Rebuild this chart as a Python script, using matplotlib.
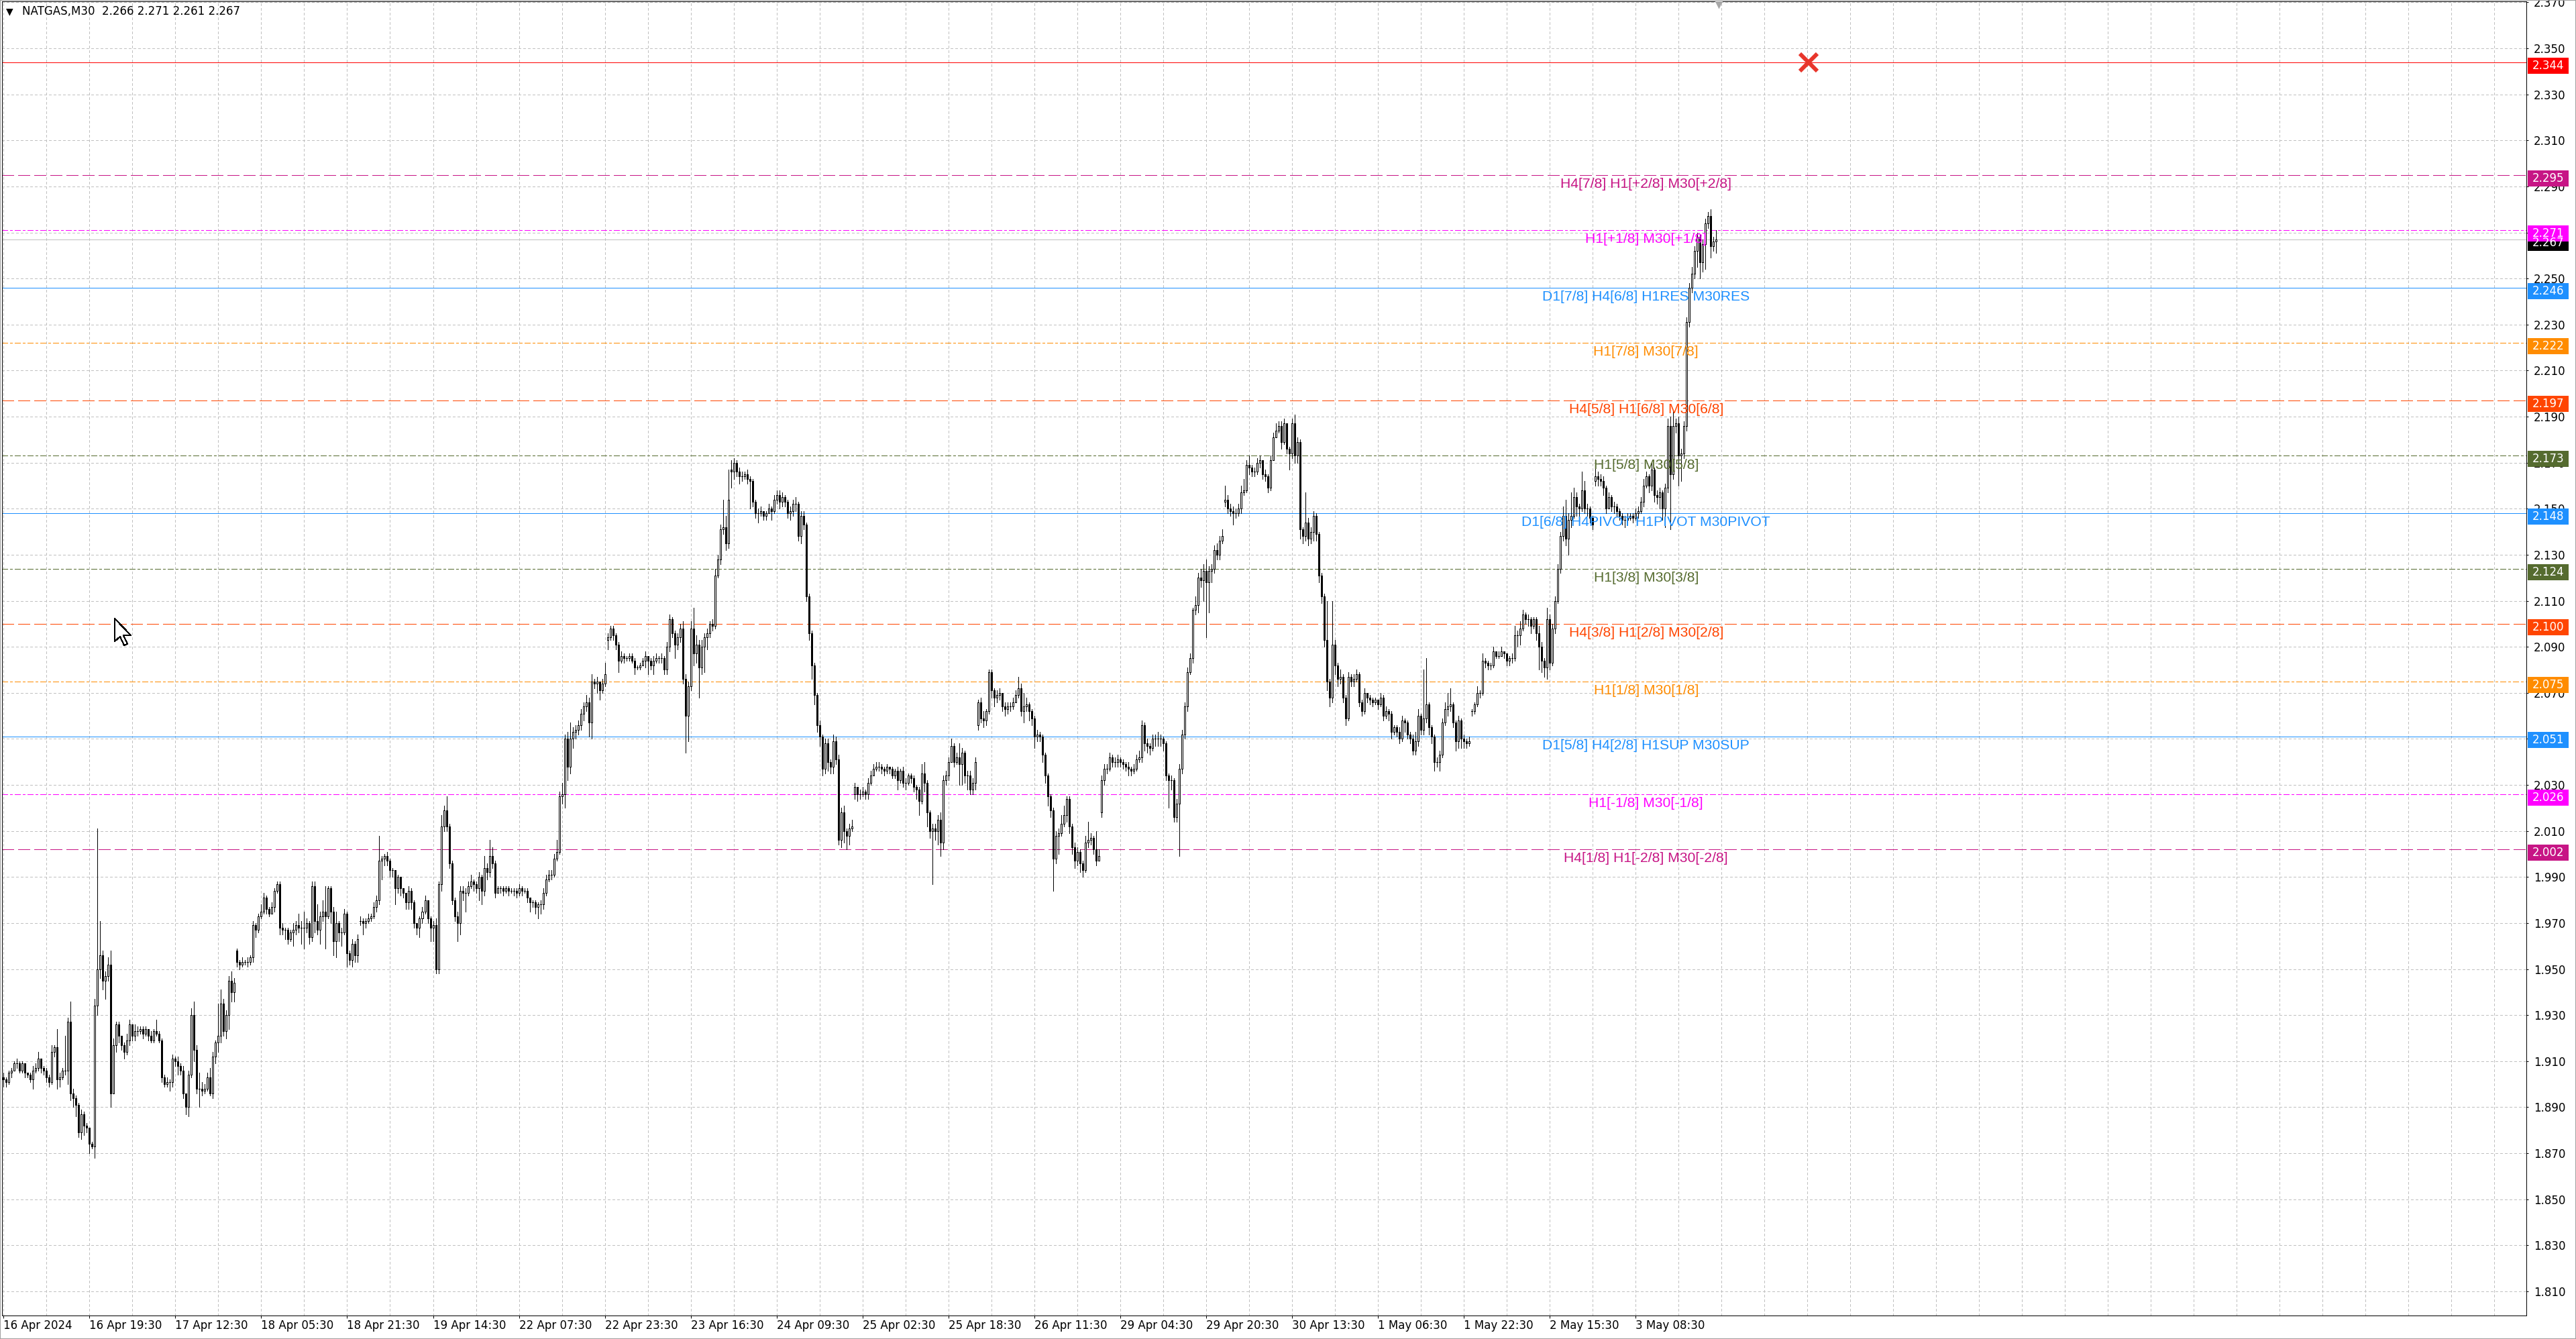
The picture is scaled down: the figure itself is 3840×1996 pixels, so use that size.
import numpy as np
import matplotlib.pyplot as plt
from matplotlib.patches import Rectangle, Polygon

W, H, DPI = 3840, 1996, 100
PX = 72 / DPI  # one pixel in points

plt.rcParams['lines.scale_dashes'] = False
plt.rcParams['lines.antialiased'] = False
plt.rcParams['patch.antialiased'] = False
plt.rcParams['font.family'] = ['DejaVu Sans']

# NATGAS M30 candles (one value per bar)
close = [
    1.902, 1.901, 1.905, 1.906, 1.909, 1.909, 1.906, 1.909, 1.905, 1.904, 1.902, 1.906, 1.907, 1.911, 1.907, 1.906, 1.903, 1.901, 1.914, 1.916,
    1.902, 1.903, 1.906, 1.906, 1.927, 1.896, 1.894, 1.891, 1.879, 1.887, 1.882, 1.881, 1.874, 1.873, 1.934, 1.950, 1.956, 1.945, 1.947, 1.952,
    1.896, 1.917, 1.926, 1.921, 1.917, 1.914, 1.919, 1.926, 1.921, 1.923, 1.923, 1.924, 1.922, 1.924, 1.921, 1.919, 1.923, 1.922, 1.919, 1.903,
    1.900, 1.901, 1.901, 1.911, 1.910, 1.908, 1.906, 1.896, 1.890, 1.904, 1.930, 1.915, 1.898, 1.898, 1.897, 1.898, 1.903, 1.896, 1.912, 1.918,
    1.921, 1.935, 1.923, 1.930, 1.945, 1.940, 1.944, 1.953, 1.952, 1.953, 1.953, 1.953, 1.955, 1.969, 1.967, 1.973, 1.975, 1.981, 1.976, 1.974,
    1.977, 1.984, 1.987, 1.968, 1.967, 1.967, 1.963, 1.966, 1.967, 1.969, 1.968, 1.968, 1.968, 1.970, 1.964, 1.986, 1.971, 1.967, 1.973, 1.975,
    1.973, 1.985, 1.975, 1.962, 1.970, 1.966, 1.966, 1.974, 1.957, 1.954, 1.961, 1.956, 1.963, 1.971, 1.970, 1.971, 1.972, 1.973, 1.977, 1.980,
    1.997, 1.998, 1.999, 1.997, 1.993, 1.993, 1.985, 1.990, 1.985, 1.983, 1.979, 1.984, 1.979, 1.970, 1.968, 1.972, 1.975, 1.980, 1.972, 1.968,
    1.969, 1.950, 1.987, 2.012, 2.019, 2.012, 1.996, 1.980, 1.973, 1.970, 1.984, 1.983, 1.983, 1.986, 1.988, 1.987, 1.985, 1.990, 1.984, 1.994,
    1.992, 1.999, 1.996, 1.983, 1.985, 1.985, 1.984, 1.985, 1.984, 1.984, 1.984, 1.983, 1.985, 1.984, 1.984, 1.981, 1.979, 1.979, 1.977, 1.978,
    1.978, 1.983, 1.989, 1.991, 1.991, 1.998, 2.001, 2.025, 2.026, 2.050, 2.038, 2.050, 2.053, 2.054, 2.056, 2.061, 2.064, 2.066, 2.057, 2.075,
    2.074, 2.075, 2.071, 2.074, 2.078, 2.094, 2.098, 2.095, 2.091, 2.084, 2.086, 2.085, 2.085, 2.086, 2.084, 2.081, 2.081, 2.082, 2.084, 2.086,
    2.084, 2.082, 2.084, 2.085, 2.085, 2.085, 2.080, 2.090, 2.102, 2.096, 2.091, 2.094, 2.098, 2.076, 2.060, 2.073, 2.098, 2.087, 2.091, 2.081,
    2.090, 2.094, 2.096, 2.100, 2.099, 2.121, 2.128, 2.141, 2.142, 2.135, 2.154, 2.166, 2.170, 2.166, 2.164, 2.164, 2.165, 2.163, 2.162, 2.153,
    2.148, 2.148, 2.149, 2.147, 2.148, 2.150, 2.149, 2.154, 2.156, 2.153, 2.155, 2.153, 2.148, 2.149, 2.152, 2.152, 2.138, 2.147, 2.143, 2.112,
    2.096, 2.082, 2.069, 2.056, 2.051, 2.037, 2.048, 2.040, 2.038, 2.049, 2.041, 2.006, 2.018, 2.010, 2.008, 2.011, 2.012, 2.029, 2.026, 2.026,
    2.027, 2.026, 2.031, 2.034, 2.037, 2.038, 2.038, 2.037, 2.036, 2.038, 2.037, 2.034, 2.036, 2.032, 2.036, 2.031, 2.031, 2.034, 2.033, 2.029,
    2.028, 2.023, 2.035, 2.031, 2.018, 2.010, 2.011, 2.010, 2.015, 2.005, 2.032, 2.034, 2.040, 2.047, 2.040, 2.042, 2.039, 2.044, 2.034, 2.034,
    2.028, 2.031, 2.040, 2.066, 2.059, 2.058, 2.062, 2.079, 2.071, 2.068, 2.069, 2.070, 2.064, 2.063, 2.064, 2.064, 2.066, 2.069, 2.072, 2.062,
    2.064, 2.065, 2.062, 2.059, 2.051, 2.052, 2.051, 2.043, 2.034, 2.025, 2.019, 1.998, 2.008, 2.009, 2.013, 2.017, 2.024, 2.012, 2.003, 1.997,
    2.001, 1.996, 1.993, 2.005, 2.006, 2.007, 2.002, 1.997, 1.999, 2.032, 2.037, 2.037, 2.042, 2.040, 2.040, 2.041, 2.040, 2.039, 2.038, 2.037,
    2.036, 2.037, 2.041, 2.042, 2.056, 2.048, 2.047, 2.046, 2.050, 2.050, 2.050, 2.050, 2.048, 2.034, 2.032, 2.032, 2.016, 2.022, 2.037, 2.052,
    2.064, 2.079, 2.085, 2.106, 2.108, 2.120, 2.119, 2.123, 2.118, 2.123, 2.124, 2.132, 2.130, 2.136, 2.138, 2.154, 2.150, 2.149, 2.148, 2.148,
    2.150, 2.157, 2.158, 2.169, 2.168, 2.166, 2.166, 2.170, 2.171, 2.165, 2.164, 2.159, 2.171, 2.181, 2.184, 2.186, 2.179, 2.187, 2.176, 2.174,
    2.187, 2.173, 2.179, 2.141, 2.138, 2.144, 2.137, 2.140, 2.147, 2.139, 2.121, 2.112, 2.093, 2.075, 2.068, 2.091, 2.082, 2.076, 2.077, 2.068,
    2.059, 2.077, 2.075, 2.076, 2.078, 2.066, 2.062, 2.070, 2.068, 2.067, 2.066, 2.067, 2.065, 2.068, 2.060, 2.062, 2.061, 2.053, 2.055, 2.053,
    2.050, 2.058, 2.057, 2.052, 2.050, 2.045, 2.049, 2.060, 2.054, 2.059, 2.065, 2.055, 2.051, 2.040, 2.040, 2.043, 2.057, 2.063, 2.064, 2.065,
    2.057, 2.049, 2.058, 2.050, 2.049, 2.048, 2.049, 2.062, 2.065, 2.070, 2.070, 2.084, 2.083, 2.082, 2.082, 2.088, 2.086, 2.086, 2.088, 2.087,
    2.084, 2.085, 2.085, 2.095, 2.095, 2.098, 2.104, 2.102, 2.102, 2.099, 2.102, 2.096, 2.090, 2.084, 2.081, 2.102, 2.083, 2.098, 2.110, 2.124,
    2.138, 2.147, 2.137, 2.145, 2.147, 2.155, 2.151, 2.150, 2.158, 2.150, 2.150, 2.146, 2.143, 2.164, 2.163, 2.162, 2.159, 2.150, 2.155, 2.151,
    2.151, 2.149, 2.147, 2.145, 2.145, 2.146, 2.147, 2.146, 2.148, 2.149, 2.153, 2.160, 2.164, 2.160, 2.167, 2.156, 2.155, 2.157, 2.150, 2.159,
    2.186, 2.165, 2.186, 2.187, 2.173, 2.174, 2.186, 2.231, 2.246, 2.252, 2.262, 2.268, 2.257, 2.265, 2.274, 2.277, 2.264, 2.266, 2.267,
]

high = [
    1.905, 1.903, 1.906, 1.907, 1.910, 1.911, 1.910, 1.910, 1.908, 1.905, 1.905, 1.908, 1.909, 1.914, 1.911, 1.908, 1.907, 1.904, 1.917, 1.917,
    1.924, 1.905, 1.907, 1.921, 1.929, 1.936, 1.898, 1.895, 1.892, 1.889, 1.888, 1.883, 1.881, 1.875, 1.937, 2.011, 1.971, 1.958, 1.949, 1.955,
    1.958, 1.920, 1.927, 1.927, 1.920, 1.918, 1.922, 1.928, 1.926, 1.926, 1.925, 1.925, 1.925, 1.925, 1.924, 1.923, 1.924, 1.928, 1.923, 1.920,
    1.904, 1.903, 1.902, 1.913, 1.912, 1.912, 1.909, 1.908, 1.895, 1.906, 1.933, 1.936, 1.917, 1.905, 1.901, 1.900, 1.905, 1.907, 1.914, 1.919,
    1.935, 1.941, 1.937, 1.932, 1.947, 1.949, 1.946, 1.959, 1.954, 1.955, 1.954, 1.955, 1.956, 1.971, 1.970, 1.974, 1.978, 1.983, 1.982, 1.977,
    1.979, 1.985, 1.988, 1.988, 1.970, 1.968, 1.968, 1.967, 1.970, 1.971, 1.974, 1.971, 1.975, 1.972, 1.971, 1.988, 1.988, 1.978, 1.975, 1.980,
    1.986, 1.986, 1.986, 1.977, 1.975, 1.971, 1.968, 1.976, 1.975, 1.958, 1.963, 1.962, 1.965, 1.973, 1.972, 1.972, 1.974, 1.974, 1.979, 1.982,
    2.008, 1.999, 2.000, 2.001, 1.998, 1.994, 1.993, 1.991, 1.990, 1.985, 1.983, 1.986, 1.985, 1.980, 1.970, 1.973, 1.977, 1.982, 1.980, 1.973,
    1.971, 1.972, 1.988, 2.017, 2.021, 2.025, 2.013, 1.997, 1.981, 1.975, 1.986, 1.986, 1.985, 1.988, 1.991, 1.989, 1.988, 1.992, 1.991, 1.999,
    1.996, 2.006, 2.003, 1.997, 1.986, 1.986, 1.986, 1.986, 1.986, 1.985, 1.985, 1.985, 1.987, 1.986, 1.985, 1.985, 1.981, 1.980, 1.980, 1.979,
    1.980, 1.985, 1.991, 1.993, 1.993, 2.000, 2.006, 2.027, 2.031, 2.052, 2.053, 2.057, 2.055, 2.056, 2.058, 2.063, 2.066, 2.069, 2.068, 2.078,
    2.076, 2.077, 2.075, 2.076, 2.083, 2.096, 2.099, 2.099, 2.096, 2.092, 2.088, 2.087, 2.086, 2.087, 2.087, 2.085, 2.082, 2.083, 2.085, 2.088,
    2.086, 2.085, 2.086, 2.087, 2.086, 2.087, 2.086, 2.092, 2.104, 2.103, 2.097, 2.096, 2.100, 2.101, 2.078, 2.075, 2.101, 2.107, 2.095, 2.093,
    2.093, 2.096, 2.098, 2.101, 2.102, 2.124, 2.130, 2.143, 2.154, 2.147, 2.167, 2.171, 2.172, 2.171, 2.168, 2.166, 2.166, 2.167, 2.164, 2.163,
    2.154, 2.150, 2.151, 2.149, 2.149, 2.152, 2.151, 2.156, 2.158, 2.158, 2.157, 2.156, 2.154, 2.151, 2.154, 2.155, 2.153, 2.149, 2.149, 2.144,
    2.113, 2.097, 2.083, 2.070, 2.058, 2.052, 2.050, 2.050, 2.041, 2.052, 2.051, 2.043, 2.020, 2.021, 2.011, 2.013, 2.015, 2.031, 2.029, 2.028,
    2.029, 2.028, 2.033, 2.036, 2.039, 2.040, 2.040, 2.039, 2.038, 2.039, 2.038, 2.038, 2.037, 2.038, 2.037, 2.038, 2.033, 2.035, 2.035, 2.034,
    2.030, 2.029, 2.039, 2.040, 2.032, 2.019, 2.013, 2.013, 2.017, 2.018, 2.034, 2.036, 2.042, 2.050, 2.048, 2.044, 2.048, 2.046, 2.045, 2.036,
    2.036, 2.033, 2.042, 2.067, 2.068, 2.062, 2.063, 2.080, 2.080, 2.072, 2.071, 2.072, 2.069, 2.066, 2.066, 2.066, 2.068, 2.071, 2.077, 2.074,
    2.070, 2.068, 2.066, 2.063, 2.060, 2.054, 2.053, 2.052, 2.044, 2.035, 2.026, 2.020, 2.010, 2.011, 2.017, 2.021, 2.025, 2.025, 2.013, 2.005,
    2.003, 2.002, 1.997, 2.008, 2.014, 2.009, 2.008, 2.010, 2.002, 2.034, 2.039, 2.039, 2.044, 2.043, 2.042, 2.043, 2.042, 2.041, 2.040, 2.040,
    2.038, 2.039, 2.043, 2.045, 2.058, 2.057, 2.050, 2.048, 2.052, 2.052, 2.053, 2.052, 2.051, 2.049, 2.035, 2.034, 2.033, 2.024, 2.039, 2.054,
    2.066, 2.081, 2.087, 2.107, 2.112, 2.122, 2.124, 2.126, 2.128, 2.125, 2.126, 2.134, 2.135, 2.138, 2.141, 2.160, 2.156, 2.152, 2.151, 2.150,
    2.152, 2.160, 2.163, 2.171, 2.173, 2.169, 2.168, 2.172, 2.173, 2.171, 2.167, 2.165, 2.173, 2.183, 2.187, 2.188, 2.188, 2.189, 2.187, 2.177,
    2.189, 2.191, 2.181, 2.180, 2.142, 2.157, 2.146, 2.142, 2.149, 2.148, 2.140, 2.122, 2.113, 2.110, 2.076, 2.110, 2.093, 2.083, 2.080, 2.078,
    2.069, 2.079, 2.078, 2.078, 2.080, 2.079, 2.067, 2.072, 2.070, 2.069, 2.068, 2.068, 2.067, 2.070, 2.069, 2.064, 2.063, 2.062, 2.056, 2.056,
    2.055, 2.060, 2.059, 2.058, 2.053, 2.052, 2.053, 2.063, 2.061, 2.080, 2.085, 2.066, 2.056, 2.052, 2.042, 2.045, 2.059, 2.066, 2.070, 2.072,
    2.066, 2.058, 2.060, 2.059, 2.052, 2.050, 2.051, 2.063, 2.066, 2.073, 2.071, 2.087, 2.085, 2.084, 2.083, 2.090, 2.088, 2.088, 2.090, 2.088,
    2.087, 2.086, 2.087, 2.099, 2.097, 2.101, 2.106, 2.105, 2.104, 2.103, 2.103, 2.103, 2.099, 2.092, 2.085, 2.107, 2.104, 2.100, 2.112, 2.126,
    2.140, 2.151, 2.154, 2.148, 2.157, 2.159, 2.157, 2.152, 2.166, 2.162, 2.152, 2.151, 2.147, 2.168, 2.166, 2.165, 2.164, 2.160, 2.157, 2.156,
    2.153, 2.152, 2.150, 2.148, 2.147, 2.148, 2.148, 2.148, 2.150, 2.151, 2.155, 2.163, 2.166, 2.165, 2.170, 2.168, 2.158, 2.159, 2.158, 2.161,
    2.189, 2.190, 2.193, 2.189, 2.190, 2.176, 2.188, 2.233, 2.248, 2.255, 2.264, 2.270, 2.269, 2.267, 2.276, 2.279, 2.280, 2.268, 2.271,
]

low = [
    1.899, 1.899, 1.900, 1.903, 1.906, 1.907, 1.905, 1.905, 1.903, 1.903, 1.901, 1.898, 1.905, 1.906, 1.905, 1.904, 1.901, 1.899, 1.900, 1.912,
    1.898, 1.899, 1.902, 1.904, 1.900, 1.893, 1.890, 1.886, 1.877, 1.876, 1.878, 1.879, 1.870, 1.872, 1.868, 1.930, 1.946, 1.941, 1.937, 1.945,
    1.890, 1.911, 1.914, 1.918, 1.915, 1.911, 1.913, 1.917, 1.919, 1.919, 1.921, 1.922, 1.920, 1.921, 1.919, 1.918, 1.918, 1.921, 1.918, 1.901,
    1.899, 1.899, 1.897, 1.899, 1.908, 1.904, 1.904, 1.894, 1.887, 1.886, 1.903, 1.910, 1.896, 1.890, 1.895, 1.896, 1.897, 1.895, 1.894, 1.909,
    1.914, 1.918, 1.921, 1.920, 1.924, 1.936, 1.936, 1.951, 1.950, 1.951, 1.952, 1.951, 1.952, 1.953, 1.964, 1.966, 1.972, 1.974, 1.974, 1.973,
    1.974, 1.975, 1.983, 1.965, 1.965, 1.963, 1.961, 1.962, 1.960, 1.965, 1.966, 1.961, 1.959, 1.966, 1.961, 1.962, 1.966, 1.965, 1.961, 1.971,
    1.959, 1.972, 1.970, 1.956, 1.955, 1.962, 1.960, 1.965, 1.951, 1.952, 1.951, 1.953, 1.953, 1.969, 1.965, 1.968, 1.970, 1.971, 1.972, 1.975,
    1.978, 1.989, 1.995, 1.995, 1.990, 1.990, 1.978, 1.983, 1.982, 1.981, 1.976, 1.976, 1.976, 1.968, 1.965, 1.964, 1.970, 1.974, 1.970, 1.962,
    1.962, 1.948, 1.948, 1.984, 2.010, 2.010, 1.994, 1.978, 1.971, 1.962, 1.965, 1.980, 1.975, 1.982, 1.985, 1.984, 1.983, 1.980, 1.978, 1.982,
    1.989, 1.990, 1.994, 1.981, 1.983, 1.983, 1.982, 1.983, 1.982, 1.983, 1.982, 1.981, 1.982, 1.982, 1.983, 1.979, 1.975, 1.977, 1.974, 1.972,
    1.974, 1.976, 1.982, 1.988, 1.989, 1.990, 1.997, 2.000, 2.022, 2.020, 2.032, 2.035, 2.046, 2.050, 2.052, 2.054, 2.058, 2.062, 2.051, 2.050,
    2.072, 2.070, 2.067, 2.070, 2.073, 2.089, 2.093, 2.093, 2.089, 2.079, 2.083, 2.083, 2.084, 2.084, 2.083, 2.078, 2.080, 2.080, 2.082, 2.081,
    2.078, 2.080, 2.078, 2.083, 2.083, 2.083, 2.078, 2.078, 2.088, 2.094, 2.085, 2.089, 2.092, 2.074, 2.044, 2.049, 2.071, 2.082, 2.083, 2.068,
    2.078, 2.079, 2.089, 2.094, 2.097, 2.098, 2.120, 2.126, 2.139, 2.132, 2.133, 2.159, 2.163, 2.164, 2.161, 2.162, 2.163, 2.161, 2.150, 2.151,
    2.146, 2.144, 2.147, 2.145, 2.145, 2.148, 2.145, 2.148, 2.152, 2.150, 2.151, 2.151, 2.146, 2.145, 2.147, 2.149, 2.136, 2.135, 2.141, 2.110,
    2.093, 2.076, 2.065, 2.053, 2.047, 2.034, 2.035, 2.036, 2.035, 2.035, 2.039, 2.004, 2.003, 2.005, 2.002, 2.004, 2.010, 2.024, 2.023, 2.024,
    2.025, 2.024, 2.024, 2.030, 2.034, 2.036, 2.036, 2.035, 2.034, 2.035, 2.035, 2.033, 2.033, 2.028, 2.031, 2.029, 2.028, 2.030, 2.031, 2.027,
    2.024, 2.017, 2.022, 2.027, 2.012, 2.007, 1.987, 2.006, 2.004, 1.999, 2.002, 2.030, 2.032, 2.040, 2.038, 2.039, 2.030, 2.030, 2.031, 2.028,
    2.026, 2.026, 2.028, 2.054, 2.057, 2.055, 2.056, 2.061, 2.068, 2.064, 2.066, 2.067, 2.062, 2.060, 2.061, 2.062, 2.063, 2.066, 2.068, 2.060,
    2.057, 2.062, 2.058, 2.056, 2.046, 2.049, 2.049, 2.040, 2.031, 2.021, 2.016, 1.984, 1.996, 2.000, 2.008, 2.012, 2.014, 2.009, 2.000, 1.994,
    1.995, 1.992, 1.990, 1.992, 2.003, 2.004, 2.000, 1.995, 1.997, 2.016, 2.030, 2.035, 2.036, 2.038, 2.038, 2.038, 2.038, 2.037, 2.036, 2.034,
    2.034, 2.035, 2.036, 2.040, 2.040, 2.045, 2.044, 2.043, 2.045, 2.047, 2.047, 2.047, 2.045, 2.032, 2.020, 2.028, 2.014, 2.014, 1.999, 2.035,
    2.050, 2.062, 2.078, 2.083, 2.104, 2.105, 2.116, 2.110, 2.094, 2.105, 2.118, 2.122, 2.128, 2.128, 2.135, 2.151, 2.148, 2.147, 2.143, 2.146,
    2.147, 2.148, 2.156, 2.157, 2.165, 2.164, 2.164, 2.165, 2.168, 2.163, 2.162, 2.157, 2.158, 2.171, 2.181, 2.183, 2.176, 2.178, 2.174, 2.167,
    2.172, 2.170, 2.170, 2.137, 2.135, 2.136, 2.134, 2.135, 2.136, 2.136, 2.118, 2.109, 2.090, 2.071, 2.064, 2.066, 2.078, 2.073, 2.074, 2.066,
    2.056, 2.058, 2.073, 2.073, 2.075, 2.064, 2.060, 2.061, 2.066, 2.065, 2.064, 2.065, 2.063, 2.064, 2.058, 2.059, 2.058, 2.050, 2.052, 2.051,
    2.048, 2.049, 2.053, 2.050, 2.048, 2.043, 2.043, 2.047, 2.052, 2.052, 2.057, 2.052, 2.048, 2.036, 2.038, 2.036, 2.042, 2.056, 2.060, 2.062,
    2.055, 2.045, 2.046, 2.046, 2.046, 2.046, 2.047, 2.060, 2.061, 2.064, 2.068, 2.069, 2.081, 2.080, 2.080, 2.081, 2.085, 2.085, 2.086, 2.085,
    2.082, 2.082, 2.083, 2.084, 2.090, 2.091, 2.097, 2.100, 2.099, 2.096, 2.098, 2.093, 2.080, 2.079, 2.077, 2.076, 2.080, 2.082, 2.096, 2.109,
    2.122, 2.136, 2.134, 2.130, 2.142, 2.146, 2.147, 2.147, 2.149, 2.148, 2.147, 2.144, 2.141, 2.160, 2.160, 2.160, 2.156, 2.148, 2.150, 2.149,
    2.148, 2.147, 2.145, 2.143, 2.142, 2.144, 2.145, 2.144, 2.145, 2.146, 2.148, 2.151, 2.159, 2.157, 2.158, 2.153, 2.152, 2.150, 2.145, 2.142,
    2.157, 2.141, 2.163, 2.183, 2.160, 2.162, 2.172, 2.184, 2.229, 2.244, 2.250, 2.255, 2.250, 2.253, 2.254, 2.272, 2.259, 2.262, 2.261,
]

# bars whose open is not the previous close (session starts)
gap_open = {0: 1.903, 87: 1.958, 133: 1.971, 225: 2.093, 271: 2.167, 317: 2.026,
            363: 2.056, 409: 2.018, 455: 2.153, 547: 2.062, 593: 2.162, 638: 2.266}

time_labels = ['16 Apr 2024', '16 Apr 19:30', '17 Apr 12:30', '18 Apr 05:30', '18 Apr 21:30',
               '19 Apr 14:30', '22 Apr 07:30', '22 Apr 23:30', '23 Apr 16:30', '24 Apr 09:30',
               '25 Apr 02:30', '25 Apr 18:30', '26 Apr 11:30', '29 Apr 04:30', '29 Apr 20:30',
               '30 Apr 13:30', '1 May 06:30', '1 May 22:30', '2 May 15:30', '3 May 08:30']

# Murrey math levels drawn by the indicator
levels = [2.344, 2.295, 2.271, 2.246, 2.222, 2.197, 2.173, 2.148, 2.124, 2.100, 2.075, 2.051, 2.026, 2.002]
level_names = ['', 'H4[7/8] H1[+2/8] M30[+2/8]', 'H1[+1/8] M30[+1/8]', 'D1[7/8] H4[6/8] H1RES M30RES',
               'H1[7/8] M30[7/8]', 'H4[5/8] H1[6/8] M30[6/8]', 'H1[5/8] M30[5/8]',
               'D1[6/8] H4PIVOT H1PIVOT M30PIVOT', 'H1[3/8] M30[3/8]', 'H4[3/8] H1[2/8] M30[2/8]',
               'H1[1/8] M30[1/8]', 'D1[5/8] H4[2/8] H1SUP M30SUP', 'H1[-1/8] M30[-1/8]',
               'H4[1/8] H1[-2/8] M30[-2/8]']
level_colors = ['#FF0000', '#C71585', '#FF00FF', '#1E90FF', '#FF8C00', '#FF4500', '#556B2F',
                '#1E90FF', '#556B2F', '#FF4500', '#FF8C00', '#1E90FF', '#FF00FF', '#C71585']
level_kinds = ['solid', 'dash', 'dashdot', 'solid', 'dashdot', 'dash', 'dashdot',
               'solid', 'dashdot', 'dash', 'dashdot', 'solid', 'dashdot', 'dash']
last_bar = (2.266, 2.271, 2.261, 2.267)
target_price = 2.344

dash_styles = {
    'solid': '-',
    'dash': (0, (18 * PX, 6 * PX)),
    'dashdot': (0, (9 * PX, 3 * PX, 3 * PX, 3 * PX)),
}

fig = plt.figure(figsize=(W / DPI, H / DPI), dpi=DPI, facecolor='white')
ax = fig.add_axes([3 / W, 1 - 1961 / H, (3766 - 3) / W, (1961 - 2) / H])
ax.set_xlim(-0.6, 940)
ax.set_ylim(1.7995, 2.3704)
ax.set_facecolor('white')

# grid
yticks = np.round(np.arange(1.81, 2.371, 0.02), 3)
grid_ls = (0, (3 * PX, 3 * PX))
for p in yticks:
    ax.axhline(p, color='#C0C0C0', lw=PX, ls=grid_ls, zorder=1)
for b in range(0, 941, 16):
    ax.axvline(b, color='#C0C0C0', lw=PX, ls=grid_ls, zorder=1)

# levels
ax.axhline(last_bar[3], color='#C0C0C0', lw=PX, zorder=2)
for p, name, col, kind in zip(levels, level_names, level_colors, level_kinds):
    ax.axhline(p, color=col, lw=PX, ls=dash_styles[kind], zorder=2)
    if name:
        ax.annotate(name, xy=(612, p), xytext=(0, -3), textcoords='offset points',
                    ha='center', va='top', color=col, fontsize=15.2,
                    family=['Liberation Sans', 'DejaVu Sans'], zorder=6)

# candles
c = np.array(close)
h = np.array(high)
l = np.array(low)
o = np.r_[c[0], c[:-1]]
for i, v in gap_open.items():
    o[i] = v
h = np.maximum(h, np.maximum(o, c))
l = np.minimum(l, np.minimum(o, c))
x = np.arange(len(c))
ax.vlines(x, l, h, color='black', lw=PX, zorder=3)
ax.bar(x, np.abs(c - o), bottom=np.minimum(o, c), width=0.5,
       color=np.where(c >= o, 'white', 'black'), edgecolor='black', linewidth=PX, zorder=4)

# target cross and chart shift marker
ax.plot([672.6], [target_price], marker='x', ms=19, mew=6 * PX, color='#E8352B',
        zorder=7, antialiased=True)
ax.plot([639], [2.3688], marker='v', ms=9, color='#A8A8A8', mec='none', zorder=7)

# axes
for s in ax.spines.values():
    s.set_linewidth(PX)
    s.set_color('black')
ax.yaxis.tick_right()
ax.set_yticks(yticks)
ax.set_yticklabels([f'{v:.3f}' for v in yticks])
ax.set_xticks(np.arange(len(time_labels)) * 32)
ax.set_xticklabels(time_labels, ha='left')
ax.tick_params(axis='y', direction='out', length=3 * PX, width=PX, pad=8 * PX, labelsize=12)
ax.tick_params(axis='x', direction='out', length=4 * PX, width=PX, pad=2 * PX, labelsize=12)

# price boxes on the right scale (MT4 draws them a few pixels under the line)
def price_box(p, col):
    y = ax.transData.transform((0, p))[1] - 5
    fig.add_artist(Rectangle((3768 / W, (y - 12) / H), 61 / W, 24 / H, transform=fig.transFigure,
                             fc=col, ec='none', zorder=5))
    fig.text(3775 / W, y / H, f'{p:.3f}', color='white', ha='left', va='center',
             fontsize=12, zorder=6)

price_box(last_bar[3], 'black')
for p, col in zip(levels, level_colors):
    price_box(p, col)

# header
fig.text(9 / W, 1 - 17 / H, '\u25bc', fontsize=10, ha='left', va='center')
fig.text(33 / W, 1 - 17 / H, 'NATGAS,M30  %.3f %.3f %.3f %.3f' % last_bar,
         fontsize=12, ha='left', va='center')

# mouse pointer left on the chart
cur = np.array([(0, 0), (0, 34), (8, 27), (14, 40), (19, 38), (13, 25), (24, 25)], dtype=float)
cur[:, 0] = (171 + cur[:, 0]) / W
cur[:, 1] = 1 - (922 + cur[:, 1]) / H
fig.add_artist(Polygon(cur, closed=True, fc='white', ec='black', lw=PX,
                       transform=fig.transFigure, zorder=8))

# window frame
fig.add_artist(Rectangle((0, 0), 1, 1, transform=fig.transFigure, fill=False,
                         ec='#A0A0A0', lw=2 * PX, zorder=9))

fig.savefig('out.png', dpi=DPI, facecolor='white')
